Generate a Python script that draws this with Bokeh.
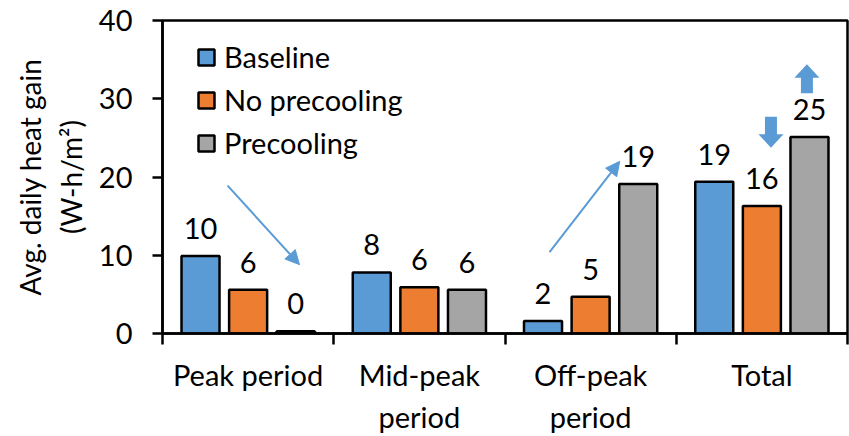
from bokeh.plotting import figure
from bokeh.models import (Range1d, ColumnDataSource, LinearAxis, FixedTicker, LabelSet,
                          Legend, LegendItem, Arrow, NormalHead, PolyAnnotation)
from bokeh.core.properties import value
from bokeh.embed import file_html
from bokeh.resources import INLINE

# Average daily heat gain (W-h/m2) per period and strategy
periods = ["Peak period", "Mid-peak\nperiod", "Off-peak\nperiod", "Total"]
baseline = [9.9, 7.8, 1.6, 19.4]
no_precooling = [5.6, 5.9, 4.7, 16.3]
precooling = [0.3, 5.6, 19.1, 25.1]
series_names = ["Baseline", "No precooling", "Precooling"]
series_colors = ["#5B9BD5", "#ED7D31", "#A5A5A5"]
y_ticks = [0, 10, 20, 30, 40]

FONT = "Lato"
FS = "29px"
ARROW_BLUE = "#5B9BD5"

p = figure(width=849, height=436, output_backend="svg", toolbar_location=None,
           x_range=Range1d(0, len(periods)), y_range=Range1d(0, 40),
           x_axis_location=None,
           min_border_left=162, min_border_right=2, min_border_top=20, min_border_bottom=101)
p.grid.visible = False
p.outline_line_color = "black"
p.outline_line_width = 2.5
p.background_fill_color = "white"
p.border_fill_color = "white"

# y axis
yax = p.yaxis[0]
yax.ticker = FixedTicker(ticks=y_ticks)
yax.major_tick_in = 0
yax.major_tick_out = 10
yax.major_tick_line_width = 2.5
yax.axis_line_width = 2.5
yax.minor_tick_line_color = None
yax.major_label_text_font = FONT
yax.major_label_text_font_size = FS
yax.major_label_text_color = "black"
yax.major_label_standoff = 20
yax.axis_label = "Avg. daily heat gain\n(W-h/m\u00b2)"
yax.axis_label_text_font = FONT
yax.axis_label_text_font_size = "28px"
yax.axis_label_text_font_style = "normal"
yax.axis_label_text_color = "black"
yax.axis_label_standoff = 8

# x axis: names centred in each group, boundary marks drawn as minor ticks
centers = [i + 0.5 for i in range(len(periods))]
bounds = list(range(len(periods) + 1))
xax = LinearAxis(ticker=FixedTicker(ticks=centers, minor_ticks=bounds),
                 major_label_overrides={c: name for c, name in zip(centers, periods)},
                 axis_line_width=2.5,
                 major_tick_line_color=None, major_tick_in=0, major_tick_out=11,
                 minor_tick_line_color="black", minor_tick_line_width=2.5,
                 minor_tick_in=0, minor_tick_out=11,
                 major_label_text_font=FONT, major_label_text_font_size=FS,
                 major_label_text_color="black", major_label_standoff=12)
p.add_layout(xax, "below")

# grouped bars with rounded value labels
offsets = [-0.278, 0.0, 0.278]
bar_width = 0.222
legend_items = []
for name, vals, color, off in zip(series_names, [baseline, no_precooling, precooling],
                                  series_colors, offsets):
    src = ColumnDataSource(dict(x=[c + off for c in centers], top=vals,
                                label=[f"{v:.0f}" for v in vals]))
    r = p.vbar(x="x", top="top", width=bar_width, source=src, fill_color=color,
               line_color="black", line_width=2.5)
    legend_items.append(LegendItem(label=name, renderers=[r]))
    p.add_layout(LabelSet(x="x", y="top", text="label", source=src, text_align="center",
                          text_baseline="alphabetic", y_offset=17, text_font=value(FONT),
                          text_font_size=FS, text_color="black"))

legend = Legend(items=legend_items, location=(34, 173), padding=0, margin=0, spacing=8,
                glyph_width=20, glyph_height=20, label_standoff=8,
                label_text_font=FONT, label_text_font_size=FS, label_text_color="black",
                background_fill_alpha=0, border_line_color=None)
p.add_layout(legend)

# trend arrows
for xs, ys, xe, ye in [(0.38, 18.9, 0.80, 8.8), (2.26, 10.4, 2.67, 22.0)]:
    p.add_layout(Arrow(x_start=xs, y_start=ys, x_end=xe, y_end=ye,
                       line_color=ARROW_BLUE, line_width=2,
                       end=NormalHead(size=14, fill_color=ARROW_BLUE, line_color=ARROW_BLUE)))

# block arrows over the totals
PX_X = len(periods) / 685.0
PX_Y = 40 / 315.0


def block_arrow(cx, tail_y, tip_y, shaft_px=6, head_px=12.5, head_len_px=13.5):
    d = 1 if tip_y > tail_y else -1
    neck = tip_y - d * head_len_px * PX_Y
    sx, hx = shaft_px * PX_X, head_px * PX_X
    xs = [cx - sx, cx - sx, cx - hx, cx, cx + hx, cx + sx, cx + sx]
    ys = [tail_y, neck, neck, tip_y, neck, neck, tail_y]
    return PolyAnnotation(xs=xs, ys=ys, fill_color=ARROW_BLUE, fill_alpha=1,
                          line_color=None)


p.add_layout(block_arrow(3.553, 27.7, 23.75))
p.add_layout(block_arrow(3.763, 30.7, 34.4))

open("out.html", "w").write(file_html(p, INLINE))
